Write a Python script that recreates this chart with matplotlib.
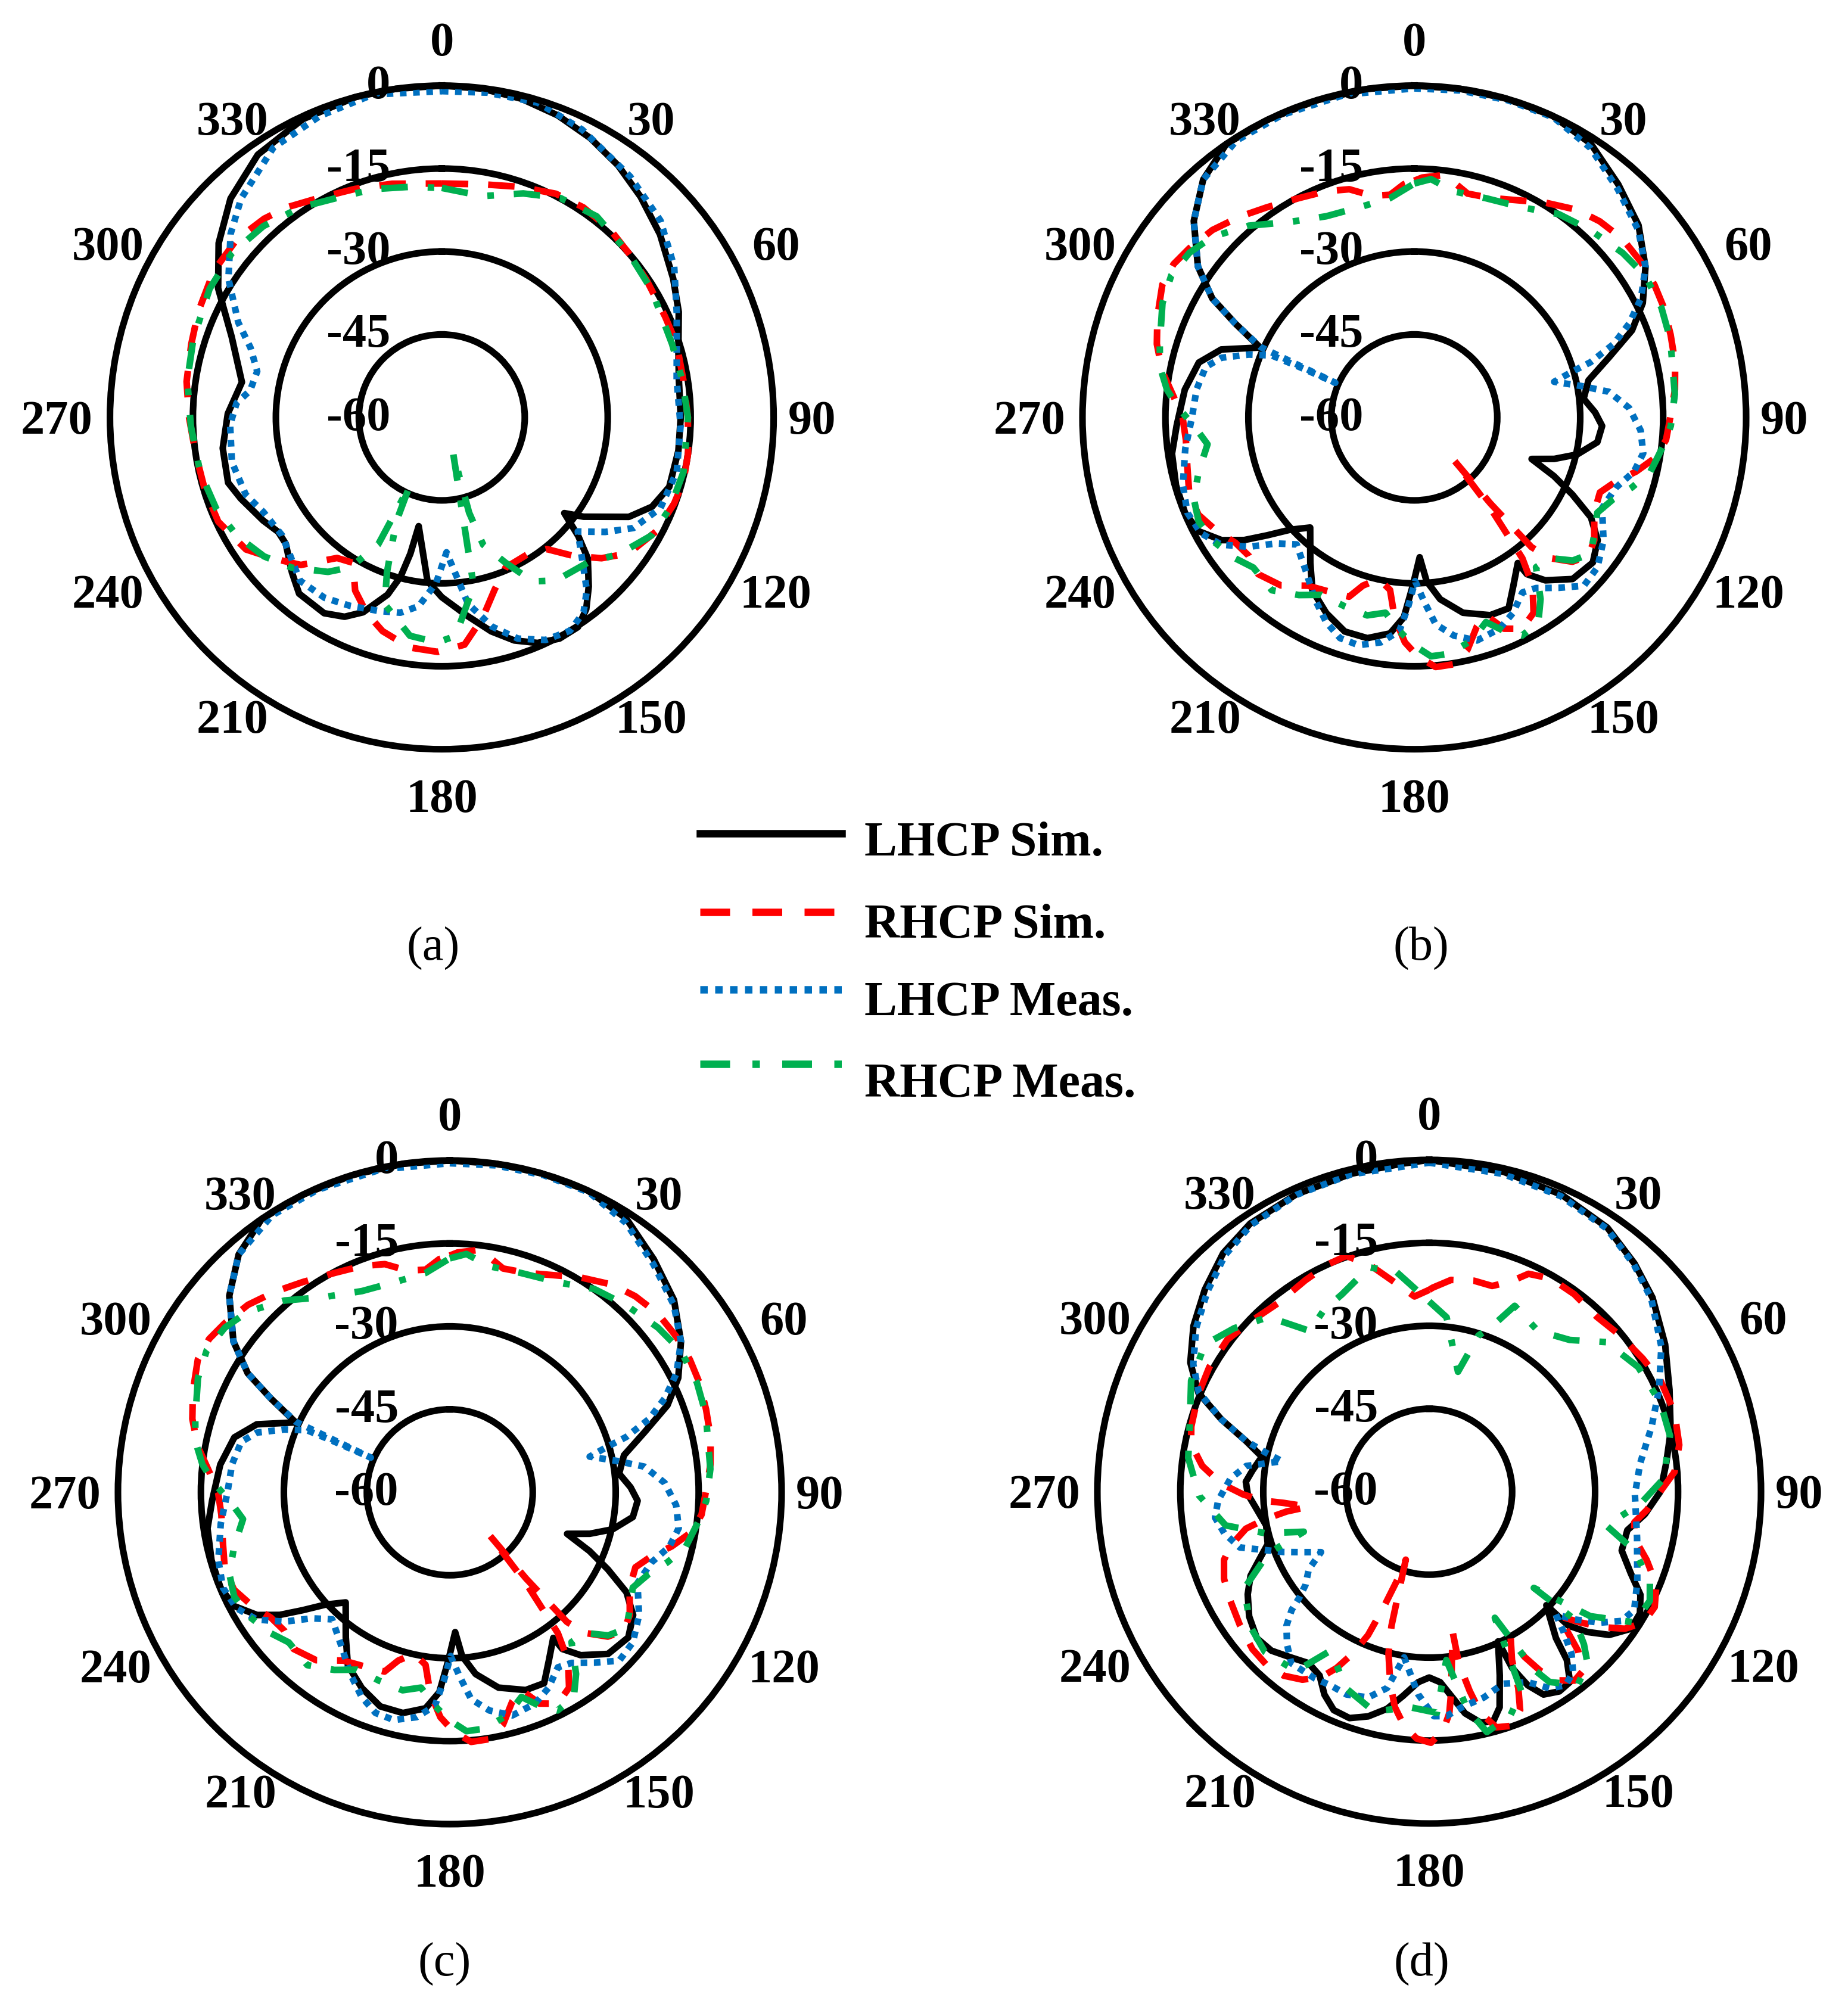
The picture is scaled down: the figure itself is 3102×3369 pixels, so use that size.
import numpy as np
import matplotlib
matplotlib.use('Agg')
import matplotlib.pyplot as plt
from matplotlib.transforms import offset_copy

plt.rcParams['font.family'] = ['Liberation Serif', 'DejaVu Serif']

# ---- data: (angle deg, gain dB) ----
# panel (a)
a_lsim = [(0, 0), (7, -0.1), (14, -0.6), (21, -1.5), (28, -2.8), (35, -4.4), (42, -6.3), (50, -8.5),
          (59, -11.2), (66, -13.1), (74, -15.5), (81, -16.6), (90, -16.8), (98, -16.8), (107, -17), (113, -18.7),
          (118, -21.7), (125, -28.7), (128, -31.9), (131, -27.3), (134, -23.3), (139, -19.5), (143, -16.6),
          (147, -14.8), (152, -14.7), (157, -15.7), (162, -17.6), (167, -20.3), (173, -24), (180, -27.5),
          (185, -30.3), (192, -39.9), (193, -34.7), (194.5, -30.3), (197, -26.5), (202, -22), (206, -19.9),
          (211, -18.7), (219, -19), (224, -21), (231, -23.7), (235, -23.9), (240, -22.7), (248, -20.8),
          (253, -19.6), (262, -20), (271, -21.3), (280, -23.3), (291, -19.3), (300, -13.3), (308, -8.8),
          (316, -5), (325, -2), (335, -0.5), (345, 0), (352, 0), (360, 0)]
a_rsim = [(0, -17.7), (10, -17.2), (18.6, -16), (27, -14.6), (34, -14.2), (42, -14.4), (48.6, -15),
          (56, -15.4), (65.7, -15.7), (72.6, -15.5), (81.3, -15.8), (90, -15.5), (98.3, -15), (104.7, -14.8),
          (110.3, -15.2), (118, -16.1), (126, -18.2), (131.4, -21.5), (136.4, -25.4), (141.5, -29.6),
          (147.6, -30.8), (157, -30.5), (163, -27.4), (168.4, -23.1), (174.3, -18.7), (181, -17.6),
          (188, -18), (195.5, -19.9), (201, -22.1), (206.6, -25), (211.4, -29.2), (216.7, -28.3),
          (223.7, -23.1), (230, -20.3), (236, -17.3), (245, -15.4), (253, -15.2), (261.7, -15),
          (270, -14.3), (278, -13.4), (286.3, -12.8), (293.4, -12), (302.7, -11), (311, -10.9),
          (318.2, -11.8), (323.6, -12.8), (330.7, -14.5), (339.2, -15.8), (348, -16.8), (360, -17.7)]
a_lmeas = [(0, -1), (8, -0.7), (17, -0.5), (26, -2.1), (38, -4.7), (48, -6.8), (57, -9.9), (66, -13.5),
           (74, -15.8), (81, -17), (92, -16.8), (103, -16.4), (112.5, -17.2), (120, -20), (125, -23.9),
           (130, -27.9), (136, -23.3), (140, -19.2), (144, -16.4), (149, -15), (155, -15.6), (161, -17.7),
           (166.5, -21.1), (172, -26), (178, -35.6), (182, -30), (187, -25.6), (192, -23.9), (198, -23.2),
           (206, -22.1), (213, -21.1), (221, -20.9), (228, -23), (233.5, -24.1), (242, -23.5), (248.5, -21.9),
           (258, -21.2), (268, -21.7), (274, -22.8), (278, -25), (284, -25.6), (290, -23.2), (295, -19.4),
           (303, -14), (311, -9.4), (317.5, -6.3), (328, -2.5), (338, -1.2), (348, -0.3), (360, -1)]
a_rmeas = [(0, -18.5), (10.5, -19.3), (20, -16.9), (28.4, -14.9), (37.6, -14.1), (48.6, -15), (58.6, -15.6),
           (72.3, -16.3), (81, -16), (90, -15.5), (102.7, -15.2), (111.7, -15.6), (119.4, -16.5), (127.5, -19.5),
           (135, -22.8), (145, -24), (151, -26.1), (156.3, -31.3), (162, -35.8), (164, -42.1), (162.4, -53.2),
           (169.3, -29), (176.4, -20.4), (181.2, -19.3), (188.3, -20.1), (197, -24.7), (199.5, -30.3),
           (203.6, -39.4), (205.2, -46.4), (206.6, -34.3), (211.3, -28.3), (216.4, -25.3), (225, -21.6),
           (232, -19.2), (240, -17.2), (248, -16), (257.3, -15.2), (268, -14.6), (278.3, -13.5),
           (287.4, -12.9), (299, -12), (308, -11.8), (317, -12.7), (326, -14.2), (334.4, -16),
           (343.3, -16.9), (352, -17.9), (360, -18.5)]

# panel (b)
b_lsim = [(0, 0), (8, 0), (16, 0), (24.6, 0), (32.8, -1.1), (41.2, -4), (49.4, -6.6), (56.9, -10.1),
          (63.4, -13.8), (68.2, -17.6), (72.9, -23.2), (78, -27.8), (83.7, -29.2), (88.4, -27.3), (92.6, -26),
          (97.7, -26.6), (102.8, -29.8), (106.5, -33.6), (109.5, -37.5), (112.8, -32.6), (116, -28.2),
          (119.5, -23.3), (123.8, -20.1), (129.1, -18.4), (135.6, -19.1), (141.2, -22.2), (144.3, -25.1),
          (144.6, -27.7), (149.5, -24.7), (153.7, -21.5), (159, -21.7), (166, -23.6), (171.9, -26.8),
          (175.7, -30.3), (177.8, -34.7), (180.5, -29.6), (183, -23.8), (186.4, -20.7), (192, -19.2),
          (198, -19.3), (204.2, -21.2), (210.5, -23.7), (215.6, -27.7), (223.4, -32.6), (227.9, -29.7),
          (231.3, -25.9), (234.2, -22.1), (237.5, -18.7), (242.2, -15.9), (247.4, -15.1), (254.1, -15.2),
          (261.5, -15.7), (268, -17), (276.9, -18.2), (284.3, -19.8), (289.4, -23), (294.4, -29.4),
          (297.7, -23.4), (300.5, -17.6), (304.9, -12.3), (311.7, -6.6), (318.4, -2.5), (325.5, 0),
          (334, 0), (343, 0), (352, 0), (360, 0)]
b_rsim = [(0, -17.2), (1.9, -16.6), (6.1, -16), (9.6, -16.9), (13.4, -18.4), (19.1, -18), (25.5, -16.5),
          (31.4, -14.5), (38.1, -12.3), (43.4, -11.2), (49.4, -10.4), (55.5, -10.3), (61.1, -10.4),
          (66.2, -10.7), (72.1, -11.3), (78.1, -11.8), (83.9, -12.6), (89.9, -13.7), (95.1, -14.3),
          (99.6, -15.9), (103.7, -18.7), (107.7, -21.8), (112, -23.8), (117.9, -23.2), (124.3, -20.6),
          (128.5, -19.8), (132.4, -21.3), (136.1, -24.7), (137.9, -28.4), (138.5, -39.2), (137.2, -49.4),
          (140, -38.6), (142.5, -27.9), (144.9, -22.8), (148.6, -18.6), (153, -17.1), (157, -18.5),
          (160.1, -22), (163.4, -20.5), (167.1, -16.9), (170.9, -14.8), (175.1, -14.7), (179.2, -16.8),
          (182.4, -19.3), (185.6, -23.6), (188, -28.5), (192.4, -30.1), (197, -28.2), (200, -25.5),
          (205.5, -25), (212.3, -24), (218.5, -21.2), (224.9, -20), (230, -21), (235, -20.5),
          (240.1, -18.8), (245.7, -17.2), (251.1, -17), (257.7, -18), (264.4, -18.5), (270, -18.1),
          (275, -16.3), (280.3, -13.7), (285.9, -11.6), (291.4, -10.1), (297.8, -8.5), (302.5, -8.4),
          (306.9, -9.1), (312.9, -10.2), (319, -11.9), (325, -13.6), (332.3, -15.2), (338.7, -16.1),
          (344.1, -17.1), (349.2, -19.2), (353.8, -19.5), (357.4, -17.8), (360, -17.2)]
b_lmeas = [(0, -0.5), (8, -0.3), (16.5, -0.2), (24.9, -0.2), (33.2, -1.8), (41.7, -4.7), (50.1, -7.2),
           (56.9, -10.1), (62.3, -13.7), (66.4, -17.6), (69.8, -21.6), (72.6, -26.6), (73.8, -30.2),
           (75.7, -33.9), (79.4, -29.2), (82.5, -24.5), (87.5, -21.1), (93.3, -19), (98.9, -18.1),
           (103.9, -19.1), (109.2, -21.4), (115.8, -22.3), (123, -19.2), (129.3, -17.2), (134.8, -16.8),
           (139.7, -19.6), (144.5, -22.1), (148.3, -22.8), (153.2, -20.4), (158, -18.8), (164.3, -18.1),
           (169.7, -19.9), (174.1, -22.4), (176.9, -26.6), (179.7, -30.4), (181.8, -25.9), (184, -21.3),
           (188.4, -18.9), (193.8, -17.6), (198.6, -17.9), (203.3, -19.7), (208.6, -22.5), (215, -25.9),
           (222.8, -28.7), (227.6, -26.2), (232, -22), (236.6, -18.2), (241.5, -16.1), (247.2, -15.5),
           (253.7, -16.4), (262.2, -18.2), (270, -19.8), (277.3, -20.3), (283.6, -21.2), (287.2, -23.5),
           (290.8, -28), (293.5, -31.9), (293.7, -37.2), (293.7, -44.4), (294.6, -29.4), (297.7, -23.4),
           (300.5, -17.6), (304.9, -12.3), (311.7, -6.6), (318.4, -2.5), (327.3, -0.5), (336.4, -0.3),
           (348, -0.3), (360, -0.5)]
b_rmeas = [(0, -17.7), (4, -16.8), (9.9, -18.5), (18.1, -18.3), (27.2, -17.3), (35.4, -14.9), (43.3, -13.5),
           (51.7, -12), (58.5, -11), (66, -11.1), (73, -11.6), (84.9, -12.7), (91.9, -13.6), (96.2, -14.6),
           (103, -16.2), (107.9, -18.7), (112.3, -21.1), (117.5, -22.7), (123.3, -21.1), (127.7, -19.7),
           (132.1, -21.4), (136.1, -24.7), (140.9, -25.1), (145.2, -20), (148.8, -16.7), (153.7, -16),
           (157.2, -18.1), (160.7, -20.8), (165.4, -18.4), (171.6, -16.8), (176, -16.7), (180.3, -18.9),
           (184, -21.3), (188.4, -24.3), (193.4, -23.2), (200.3, -23.6), (207.6, -23.8), (213, -21.7),
           (219.5, -19.5), (227, -20.2), (231.8, -18.8), (238, -17.4), (244.2, -16.7), (249.7, -17.5),
           (255.9, -19.8), (262.6, -22.3), (267.7, -20.2), (272.3, -17.3), (276.4, -15), (281.3, -13.1),
           (286.1, -12.1), (294.4, -10), (300.3, -9.1), (306.2, -9.6), (311.8, -11), (319.2, -14.2),
           (327.5, -18.1), (336.4, -20.3), (346.3, -20.7), (353.7, -20.1), (360, -17.7)]

# panel (c) reads the same as (b)
c_lsim, c_rsim, c_lmeas, c_rmeas = b_lsim, b_rsim, b_lmeas, b_rmeas

# panel (d)
d_lsim = [(0, 0), (13, -0.6), (24, -1.2), (34, -2.4), (42, -4.5), (49, -6.5), (58, -9.7), (67, -12.8),
          (76, -15), (83, -16.8), (90, -18.2), (96, -20.8), (101, -23.5), (107, -23.6), (112, -20.7),
          (116, -17.5), (120, -16), (124.2, -15.9), (128.5, -18.4), (131.6, -21.8), (133.9, -25.1),
          (134.1, -30.5), (139.1, -25), (140.7, -20.7), (143.5, -17.2), (146.9, -16.9), (150.6, -17.9),
          (153, -20.7), (154.8, -24.8), (155.3, -30.2), (159, -24.4), (161.9, -19), (164.4, -16.9),
          (167.4, -17.2), (170.8, -19.4), (173.5, -22.5), (176.7, -25.5), (180, -26.4), (183.3, -25.5),
          (187.4, -22.7), (191, -20), (195.2, -17.9), (199.4, -16.6), (203.6, -16.9), (207.3, -18.7),
          (210.8, -21.3), (215.1, -22.1), (220.1, -20.9), (224.8, -19.5), (229.6, -19.1), (235.3, -20.4),
          (240.5, -22.3), (244.8, -24.3), (248.5, -27.1), (252, -29.3), (258.3, -29.9), (264, -28.7),
          (269.2, -27.2), (273.1, -26.8), (276.8, -27.8), (281.8, -29.1), (285.5, -25.6), (289.2, -20.2),
          (293.2, -14.6), (298.4, -10.9), (305.1, -7.9), (312, -5.4), (319.2, -3), (326.3, -1.7),
          (335.9, -1.1), (346.2, -0.8), (355, -0.5), (360, 0)]
d_rsim = [(0, -23.5), (1, -23.1), (5.9, -21.5), (12, -21), (17, -21.1), (21.1, -19.3), (24.5, -16.7),
          (29.8, -15.6), (36.3, -15.7), (43.8, -16.2), (50.6, -15.4), (58, -14.5), (64.4, -13.6),
          (72.2, -13.4), (79.4, -14), (85.4, -15.5), (94.8, -20.5), (98.5, -22.5), (102.7, -22),
          (107.4, -18.8), (112.3, -15.6), (117.1, -14.2), (121.4, -14.6), (125, -16.8), (128, -20.2),
          (130.8, -23.8), (133.8, -27.5), (136.9, -20.6), (139.5, -17.3), (142.4, -16.9), (145.5, -18.6),
          (148.2, -21.9), (150, -25.5), (150.9, -29.7), (153.8, -26.1), (155.6, -21), (157.4, -17.2),
          (160.5, -15.1), (164.1, -15.7), (166.9, -18.9), (168.5, -23.2), (170.2, -28.5), (170.5, -34.3),
          (172.5, -28.7), (173.7, -23.7), (174.8, -19.8), (176.6, -16.8), (179.6, -14.6), (182.9, -15.3),
          (186.1, -17.4), (189.1, -20.6), (191.6, -24.9), (194.1, -29.8), (195.7, -34.8), (197.1, -41.8),
          (199, -47), (200, -42.7), (201.5, -37.6), (203.1, -31.8), (205.3, -27.6), (207.7, -24),
          (210.2, -21.2), (214, -19), (218.3, -17.6), (222.7, -17), (228.3, -17.2), (234.7, -18.1),
          (241.3, -19), (247, -19.7), (251.6, -20.9), (254.8, -22.8), (258.6, -26.2), (260.5, -29.9),
          (262.1, -34), (262.9, -38), (265.6, -33.6), (267, -29.7), (269.2, -26.3), (272.3, -22.3),
          (276.5, -18.7), (281.3, -16.1), (285.3, -15.4), (292.8, -14.7), (299.5, -14.3), (307, -14.3),
          (313.6, -15.4), (321.2, -16.3), (329.6, -15.7), (336, -15), (340.6, -14.8), (345.2, -17.5),
          (350, -21.2), (355.7, -24.6), (360, -23.5)]
d_lmeas = [(0, -0.5), (13, -1), (24, -1.5), (34, -2.6), (42, -4.7), (49, -6.8), (58, -10.5), (66, -14.5),
           (73.7, -18.1), (82.3, -21.5), (90.8, -22.8), (102.5, -21.5), (113.4, -19), (120, -17.2),
           (123.9, -18.1), (127.5, -21.1), (131.3, -25), (134.1, -28.1), (136.2, -24.9), (138.7, -21),
           (141.5, -18.2), (144.9, -17.2), (148.5, -18.3), (152.6, -21.2), (159, -22.8), (165.1, -21.5),
           (171.3, -20.6), (175.6, -19.3), (178.8, -19.4), (183.1, -23.3), (188.6, -29.7), (192.1, -23.7),
           (196.5, -21.2), (202.2, -20.4), (207, -20.7), (211.4, -20.4), (218.8, -20.2), (223, -22.3),
           (226.8, -24.6), (229.3, -27.2), (230.8, -29.7), (233, -32), (237.2, -34.1), (240.8, -37.6),
           (244.5, -34.6), (247.5, -31.5), (253.6, -24.3), (258.5, -22.2), (263.1, -21), (267.6, -21.8),
           (273.8, -24), (278, -26.6), (281.7, -32.8), (283.5, -29.5), (285.5, -25.6), (289.2, -20.2),
           (293.4, -14.6), (298.4, -11.5), (305.1, -8.5), (312, -6), (319.2, -3.5), (326.3, -2),
           (335.9, -1.2), (346.2, -0.9), (360, -0.5)]
d_rmeas = [(0, -25.6), (5.7, -28.3), (13.5, -37.7), (17.5, -30.4), (20.8, -28), (24.7, -23), (34, -24.9),
           (42.8, -22.6), (49.8, -18.1), (59.2, -16), (69, -15.2), (76.9, -15.3), (84.2, -17.1), (86, -16.9),
           (93.2, -21.7), (100.8, -27.4), (106, -21.4), (112.2, -16.9), (116.3, -15.5), (122.5, -16),
           (127.7, -23.2), (132.6, -34.3), (131.3, -25), (134.6, -20.7), (137.3, -17.8), (142.5, -15.9),
           (147.7, -19.3), (149.5, -22.7), (152.5, -34.3), (155.2, -20.2), (160, -17), (166.5, -15.3),
           (170, -20), (174.2, -29.4), (178, -20), (185.4, -20.9), (194, -19), (202.9, -21.4),
           (211.8, -26.2), (216.6, -19.6), (225.7, -18.5), (233, -19.5), (242.4, -22.3), (249, -28.8),
           (252.3, -36.2), (255.8, -29.4), (260.6, -22.7), (269, -18.4), (278, -16), (286.9, -14.8),
           (295, -12.5), (303.3, -11.5), (310, -14), (317.4, -17.1), (323.4, -23.8), (330, -22),
           (336.1, -21), (345, -18), (351.5, -19.8), (360, -25.6)]

series_names = ['LHCP Sim.', 'RHCP Sim.', 'LHCP Meas.', 'RHCP Meas.']
angle_ticks = list(range(0, 360, 30))
ring_levels = [-60, -45, -30, -15, 0]
captions = ['(a)', '(b)', '(c)', '(d)']

# ---- layout (pixels of the 3102x3369 image) ----
W, H = 3102, 3369
R = 557
centers = [(741.6, 700.7), (2374, 700.7), (755, 2505), (2399, 2504)]
cap_pos = [(727, 1592), (2385, 1592), (746, 3297), (2386, 3297)]

styles = [dict(color='black', linestyle='-'),
          dict(color='#ff0000', dashes=(4, 3)),
          dict(color='#0070c0', dashes=(1, 1)),
          dict(color='#00b050', dashes=(4, 3, 1, 3))]

fig = plt.figure(figsize=(W / 100, H / 100), dpi=100)

# pixel-space overlay for legend and captions
bg = fig.add_axes([0, 0, 1, 1])
bg.set_xlim(0, W)
bg.set_ylim(H, 0)
bg.axis('off')


def draw_panel(center, curves):
    cx, cy = center
    ax = fig.add_axes([(cx - R) / W, (H - cy - R) / H, 2 * R / W, 2 * R / H], projection='polar')
    ax.set_theta_zero_location('N')
    ax.set_theta_direction(-1)
    ax.set_ylim(-60, 0)
    ax.set_xticks([])
    ax.set_yticks([-45, -30, -15])
    ax.set_yticklabels([])
    ax.tick_params(length=0)
    ax.yaxis.grid(True, color='black', linewidth=8, linestyle='-')
    ax.spines['polar'].set_linewidth(8)

    for pts, st in zip(curves, styles):
        pts = np.array(pts)
        ax.plot(np.deg2rad(pts[:, 0]), pts[:, 1], linewidth=8, clip_on=False, **st)

    # angle labels round the outside
    tr = offset_copy(ax.transData, fig=fig, y=-27, units='dots')
    for a in angle_ticks:
        if a in (30, 150, 210, 330):
            rf, sh = 1.10, 5
        elif a in (60, 120, 240, 300):
            rf, sh = 1.135, 2.5
        elif a == 270:
            rf, sh = 1.16, 0
        elif a == 90:
            rf, sh = 1.115, 0
        else:
            rf, sh = 1.14, 0
        side = 90 if a < 180 else 270
        a2 = a + sh * np.sign(side - a)
        ax.text(np.deg2rad(a2), -60 + 60 * rf, str(a), ha='center', va='baseline',
                fontsize=58, fontweight='bold', transform=tr, clip_on=False)

    # ring labels
    tr2 = offset_copy(ax.transAxes, fig=fig, y=-21, units='dots')
    for v in ring_levels:
        ax.text(0.5 - 86 / (2 * R), 0.5 + 0.5 * (v + 60) / 60, str(v), ha='right', va='baseline',
                fontsize=58, fontweight='bold', transform=tr2, zorder=10)
    return ax


all_curves = [[a_lsim, a_rsim, a_lmeas, a_rmeas],
              [b_lsim, b_rsim, b_lmeas, b_rmeas],
              [c_lsim, c_rsim, c_lmeas, c_rmeas],
              [d_lsim, d_rsim, d_lmeas, d_rmeas]]

for c, curves in zip(centers, all_curves):
    draw_panel(c, curves)

for (x, y), t in zip(cap_pos, captions):
    bg.text(x, y, t, ha='center', va='center', fontsize=58)

# legend
line_y = [1399, 1531, 1661, 1786]
text_y = [1436, 1574, 1704, 1841]
for ly, ty, name, st in zip(line_y, text_y, series_names, styles):
    bg.plot([1175, 1413], [ly, ly], linewidth=9, **st)
    bg.text(1451, ty, name, ha='left', va='baseline', fontsize=59, fontweight='bold')

fig.savefig('out.png', dpi=100)
